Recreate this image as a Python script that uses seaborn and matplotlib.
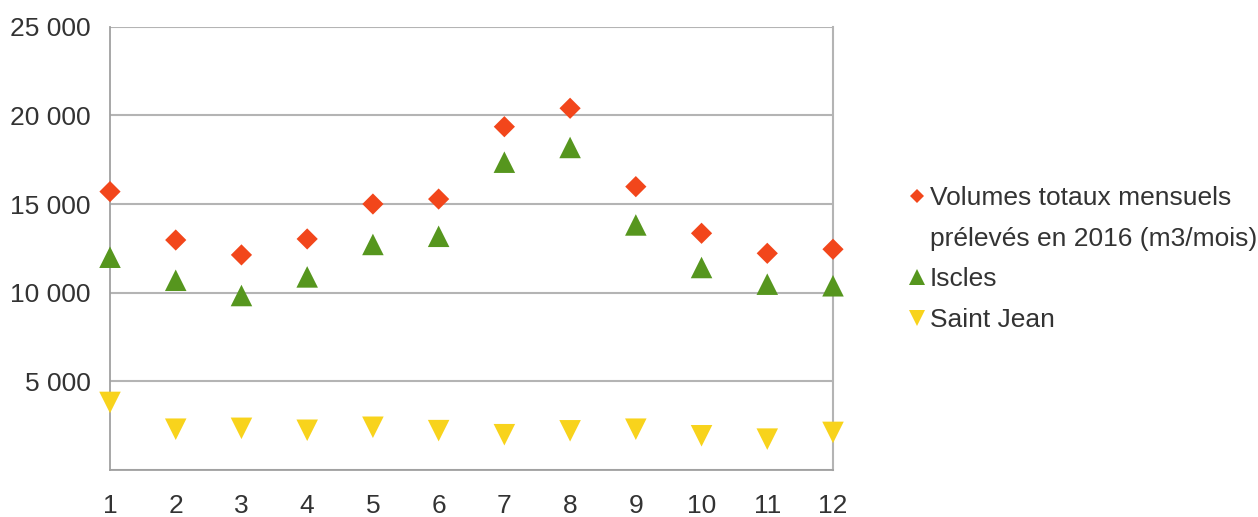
import matplotlib
matplotlib.use("Agg")
import matplotlib.pyplot as plt
from matplotlib.lines import Line2D
from matplotlib.ticker import FuncFormatter
import seaborn as sns
import pandas as pd

# Monthly withdrawn volumes, 2016 (m3/month)
months = [1, 2, 3, 4, 5, 6, 7, 8, 9, 10, 11, 12]
total = [15700, 12970, 12130, 13030, 15000, 15280, 19360, 20400, 15980, 13350, 12220, 12450]
iscles = [12000, 10700, 9840, 10890, 12720, 13180, 17360, 18190, 13820, 11420, 10480, 10390]
saint_jean = [3810, 2300, 2350, 2240, 2410, 2220, 1990, 2210, 2300, 1930, 1740, 2120]

label_total = "Volumes totaux mensuels"
label_total_2 = "prélevés en 2016 (m3/mois)"
label_iscles = "Iscles"
label_sj = "Saint Jean"

c_total = "#F2461B"
c_iscles = "#56961E"
c_sj = "#F8D31C"
grid_c = "#b4b4b4"
text_c = "#333333"

sns.set_theme(style="white")
plt.rcParams["font.family"] = ["Liberation Sans", "DejaVu Sans"]

df = pd.DataFrame({"mois": months, "total": total, "iscles": iscles, "sj": saint_jean})

fig = plt.figure(figsize=(12.58, 5.17), dpi=100)
ax = fig.add_axes([110 / 1258, 47 / 517, 723 / 1258, 443.3 / 517])

sns.scatterplot(data=df, x="mois", y="total", ax=ax, marker="D", s=10.8 ** 2,
                color=c_total, edgecolor="none", clip_on=False, zorder=3, legend=False)
sns.scatterplot(data=df, x="mois", y="iscles", ax=ax, marker="^", s=15.5 ** 2,
                color=c_iscles, edgecolor="none", clip_on=False, zorder=3, legend=False)
sns.scatterplot(data=df, x="mois", y="sj", ax=ax, marker="v", s=15.5 ** 2,
                color=c_sj, edgecolor="none", clip_on=False, zorder=3, legend=False)

ax.set_xlim(1, 12)
ax.set_ylim(0, 25000)
ax.set_xticks(months)
ax.set_yticks([0, 5000, 10000, 15000, 20000, 25000])
ax.yaxis.set_major_formatter(FuncFormatter(
    lambda v, p: "" if v == 0 else f"{int(v):,}".replace(",", " ")))
ax.set_xlabel("")
ax.set_ylabel("")

ax.yaxis.grid(True, color=grid_c, linewidth=1.5)
ax.xaxis.grid(False)
ax.set_axisbelow(True)
ax.spines["right"].set_color(grid_c)
ax.spines["right"].set_linewidth(1.5)
for side in ["left", "bottom"]:
    ax.spines[side].set_color("#a0a0a0")
    ax.spines[side].set_linewidth(1.3)
ax.spines["top"].set_visible(False)

ax.tick_params(axis="both", which="both", direction="out", length=7,
               width=1.3, color="#a0a0a0", labelsize=19, labelcolor=text_c)
ax.tick_params(axis="y", pad=7)
ax.tick_params(axis="x", pad=10)

handles = [
    Line2D([], [], linestyle="none", marker="D", markersize=7.5, color=c_total, markeredgewidth=0),
    Line2D([], [], linestyle="none", marker=None),
    Line2D([], [], linestyle="none", marker="^", markersize=11, color=c_iscles, markeredgewidth=0),
    Line2D([], [], linestyle="none", marker="v", markersize=11, color=c_sj, markeredgewidth=0),
]
labels = [label_total, label_total_2, label_iscles, label_sj]
leg = fig.legend(handles, labels, loc="upper left", bbox_to_anchor=(910 / 1258, 1 - 186 / 517),
                 frameon=False, fontsize=19, handlelength=0.5, handletextpad=0.25,
                 borderpad=0, borderaxespad=0, labelspacing=0.63)
for t in leg.get_texts():
    t.set_color(text_c)

fig.savefig("out.png", dpi=100, facecolor="white")
